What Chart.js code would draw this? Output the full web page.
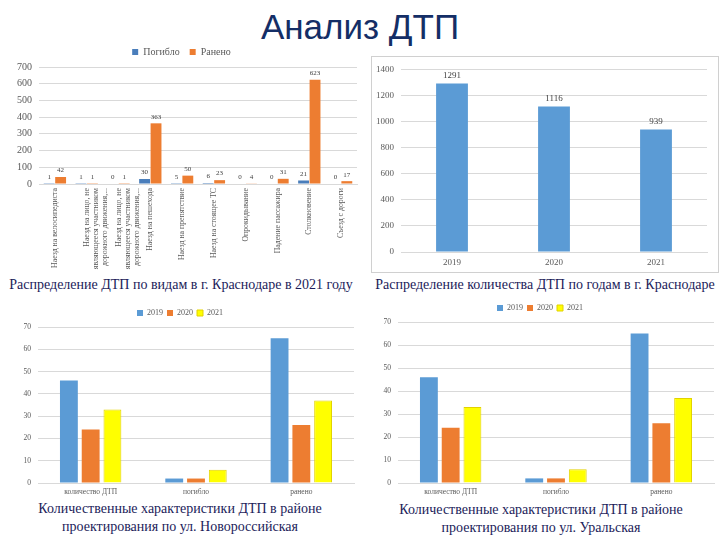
<!DOCTYPE html>
<html>
<head>
<meta charset="utf-8">
<script src="https://cdn.jsdelivr.net/npm/chart.js@4"></script>
<style>
  body { margin: 0; background: #fff; }
  #page { position: relative; width: 720px; height: 540px; overflow: hidden; font-family: "Liberation Serif", serif; }
  #title { position: absolute; left: 0; top: 7px; width: 720px; text-align: center; font-family: "Liberation Sans", Arial, sans-serif; font-size: 35px; color: #142e66; }
  canvas { position: absolute; }
  .cap { position: absolute; text-align: center; color: #1c1c5a; font-size: 14px; line-height: 18px; white-space: nowrap; }
  #box2 { position: absolute; left: 371px; top: 56px; width: 346px; height: 215px; border: 1px solid #d0d0d0; }
</style>
</head>
<body>
<div id="page">
  <div id="title">Анализ ДТП</div>
  <canvas id="types" width="362" height="235" style="left:0;top:37px"></canvas>
  <div id="box2"></div>
  <canvas id="years" width="344" height="212" style="left:372px;top:57px"></canvas>
  <canvas id="novo" width="360" height="194" style="left:0;top:305px"></canvas>
  <canvas id="ural" width="360" height="199" style="left:360px;top:300px"></canvas>
  <div class="cap" style="left:0;top:276px;width:362px">Распределение ДТП по видам в г. Краснодаре в 2021 году</div>
  <div class="cap" style="left:370px;top:276px;width:350px">Распределение количества ДТП по годам в г. Краснодаре</div>
  <div class="cap" style="left:0;top:500px;width:360px">Количественные характеристики ДТП в районе<br>проектирования по ул. Новороссийская</div>
  <div class="cap" style="left:362px;top:501px;width:358px">Количественные характеристики ДТП в районе<br>проектирования по ул. Уральская</div>
</div>
<script>
// вид ДТП, 2021
const typeLabels = [
  "Наезд на велосипедиста",
  ["Наезд на лицо, не", "являющееся участником", "дорожного движения,..."],
  ["Наезд на лицо, не", "являющееся участником", "дорожного движения,..."],
  "Наезд на пешехода",
  "Наезд на препятствие",
  "Наезд на стоящее ТС",
  "Опрокидывание",
  "Падение пассажира",
  "Столкновение",
  "Съезд с дороги"
];
const killed = [1, 1, 0, 30, 5, 6, 0, 0, 21, 0];
const injured = [42, 1, 1, 363, 50, 23, 4, 31, 623, 17];

// по годам
const yearLabels = ["2019", "2020", "2021"];
const yearTotals = [1291, 1116, 939];

// районы проектирования
const areaLabels = ["количество ДТП", "погибло", "ранено"];
const area2019 = [46, 2, 65];
const area2020 = [24, 2, 26];
const area2021 = [33, 6, 37];

const BLUE = "#5b9bd5", ORANGE = "#ed7d31", YELLOW = "#ffff00";
const TICK = "#595959", GRID = "#d9d9d9";
const serif = "'Liberation Serif', 'Times New Roman', serif";
Chart.defaults.font.family = serif;

const valueLabels = {
  id: "valueLabels",
  afterDatasetsDraw(chart, args, opts) {
    if (!opts.show) return;
    const ctx = chart.ctx;
    ctx.save();
    ctx.font = opts.size + "px " + serif;
    ctx.fillStyle = "#404040";
    ctx.textAlign = "center";
    ctx.textBaseline = "bottom";
    chart.data.datasets.forEach((ds, i) => {
      chart.getDatasetMeta(i).data.forEach((bar, j) => {
        ctx.fillText(ds.data[j], bar.x, bar.y - 3);
      });
    });
    ctx.restore();
  }
};
Chart.register(valueLabels);

function scales(max, step, xSize, ySize, rot, yWidth, xHeight, xPad) {
  return {
    x: {
      grid: { display: false, drawTicks: false },
      border: { color: GRID },
      ticks: { color: TICK, font: { family: serif, size: xSize }, minRotation: rot, maxRotation: rot, autoSkip: false, padding: xPad },
      afterFit(s) { s.height = xHeight; }
    },
    y: {
      min: 0, max: max,
      grid: { color: GRID, drawTicks: false },
      border: { display: false },
      ticks: { stepSize: step, color: TICK, font: { family: serif, size: ySize }, padding: 7, callback: v => String(v) },
      afterFit(s) { s.width = yWidth; }
    }
  };
}

new Chart(document.getElementById("types"), {
  type: "bar",
  data: {
    labels: typeLabels,
    datasets: [
      { label: "Погибло", data: killed, backgroundColor: "#4a7ebb" },
      { label: "Ранено", data: injured, backgroundColor: ORANGE }
    ]
  },
  options: {
    responsive: false, animation: false,
    layout: { padding: { left: 6, right: 5, top: 0, bottom: 0 } },
    datasets: { bar: { barPercentage: 0.95, categoryPercentage: 0.72 } },
    scales: scales(700, 100, 7.8, 10, 90, 33, 88, 4),
    plugins: {
      legend: { labels: { color: TICK, font: { family: serif, size: 10 }, boxWidth: 6, boxHeight: 6, padding: 10 } },
      tooltip: { enabled: false },
      valueLabels: { show: true, size: 7 }
    }
  }
});

new Chart(document.getElementById("years"), {
  type: "bar",
  data: {
    labels: yearLabels,
    datasets: [{ label: "ДТП", data: yearTotals, backgroundColor: BLUE }]
  },
  options: {
    responsive: false, animation: false,
    layout: { padding: { left: 2, right: 9, top: 10, bottom: 0 } },
    datasets: { bar: { barPercentage: 0.52, categoryPercentage: 0.6 } },
    scales: scales(1400, 200, 9, 9, 0, 27, 17, 5),
    plugins: {
      legend: { display: false },
      tooltip: { enabled: false },
      valueLabels: { show: true, size: 9 }
    }
  }
});

function areaChart(id) {
  new Chart(document.getElementById(id), {
    type: "bar",
    data: {
      labels: areaLabels,
      datasets: [
        { label: "2019", data: area2019, backgroundColor: BLUE },
        { label: "2020", data: area2020, backgroundColor: ORANGE },
        { label: "2021", data: area2021, backgroundColor: YELLOW, borderColor: "#e2d200", borderWidth: 1 }
      ]
    },
    options: {
      responsive: false, animation: false,
      layout: { padding: { left: 6, right: 6, top: 0, bottom: 0 } },
      datasets: { bar: { barPercentage: 0.82, categoryPercentage: 0.62 } },
      scales: scales(70, 10, 7.5, 7.5, 0, 32, 16, 5),
      plugins: {
        legend: { labels: { color: TICK, font: { family: serif, size: 8 }, boxWidth: 6, boxHeight: 6, padding: 4 } },
        tooltip: { enabled: false },
        valueLabels: { show: false }
      }
    }
  });
}
areaChart("novo");
areaChart("ural");
</script>
</body>
</html>
